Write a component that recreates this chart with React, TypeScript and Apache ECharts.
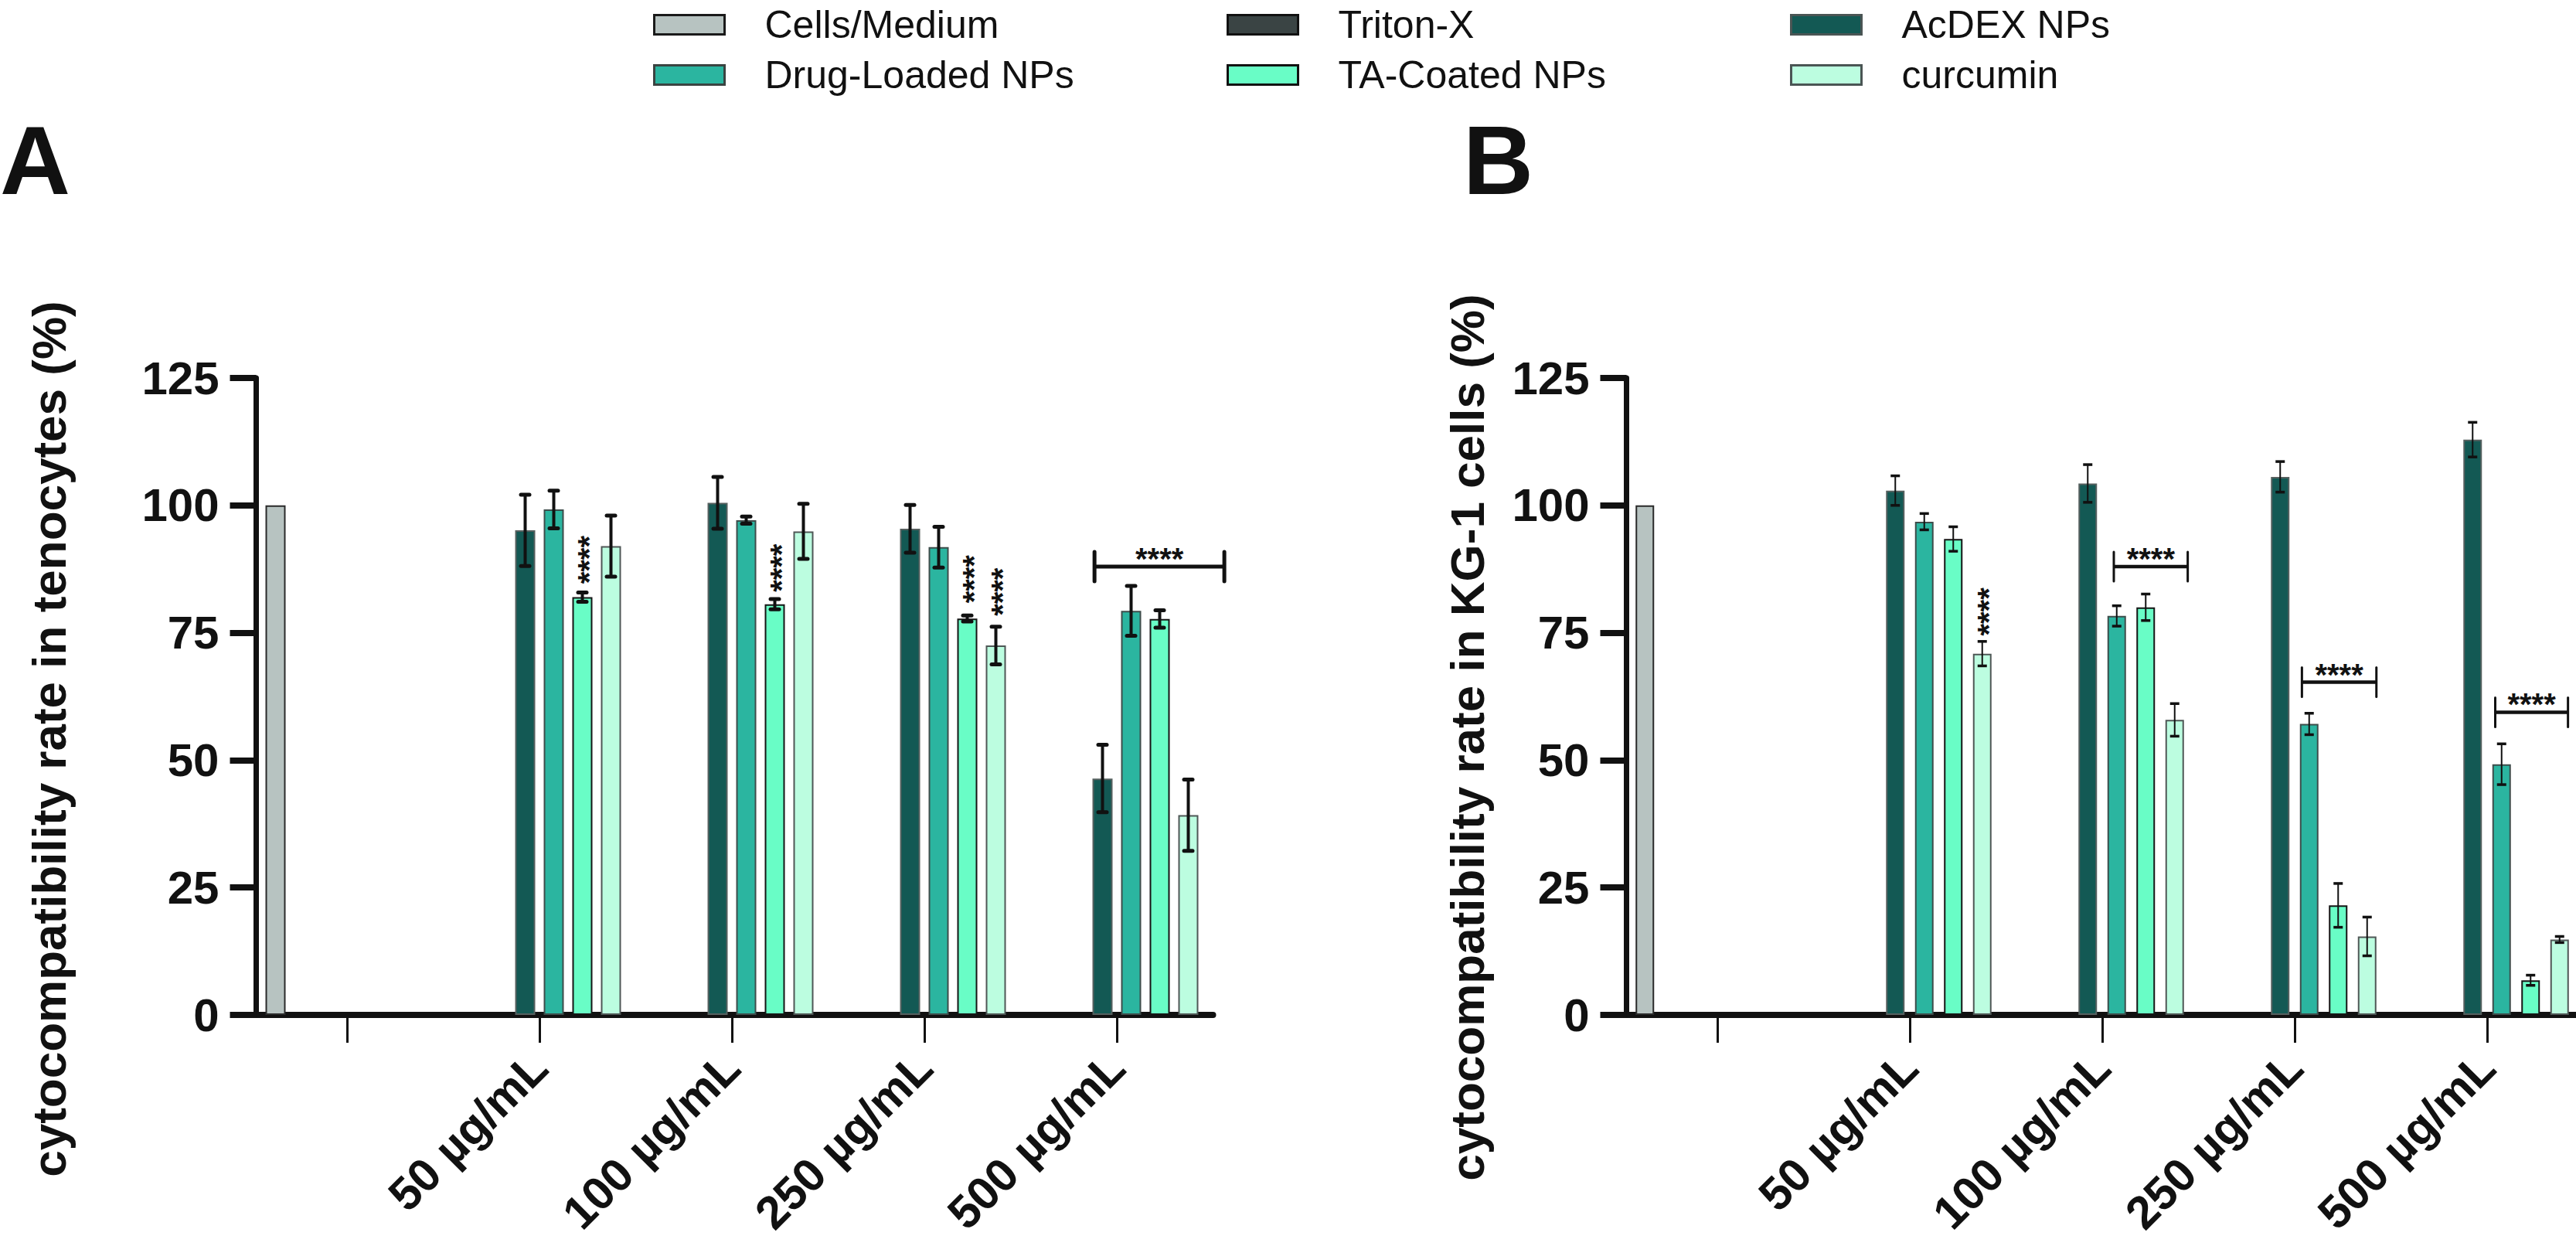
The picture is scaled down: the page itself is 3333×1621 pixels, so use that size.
import React, { useEffect, useRef } from "react";
import * as echarts from "echarts";

const FONT = "'Liberation Sans', Arial, Helvetica, sans-serif";

// ---------- categories & series ----------
const categories = ["", "50 µg/mL", "100 µg/mL", "250 µg/mL", "500 µg/mL"];
const seriesNames = ["Cells/Medium", "Triton-X", "AcDEX NPs", "Drug-Loaded NPs", "TA-Coated NPs", "curcumin"];
const fillColors = ["#b7c3c1", "#3a4444", "#135954", "#2bb5a0", "#69fdc6", "#bcfde0"];
const edgeColors = ["#2a2a2a", "#111111", "#56605f", "#3e4d4b", "#151515", "#4f5756"];
const legendEdgeColors = ["#1a1a1a", "#111111", "#4a5554", "#3a4341", "#111111", "#4a5554"];

// y axis ticks
const yMin = 0;
const yMax = 125;
const yStep = 25;

// ---------- Panel A: tenocytes ----------
const cellsA = [100, null, null, null, null];
const tritonA = [0, null, null, null, null];
const acdexA = [null, 95.1, 100.5, 95.4, 46.4];
const drugA = [null, 99.2, 97.1, 91.8, 79.3];
const taA = [null, 82.0, 80.6, 77.8, 77.7];
const curA = [null, 92.0, 94.9, 72.5, 39.2];
const acdexSdA = [null, 7.0, 5.1, 4.7, 6.6];
const drugSdA = [null, 3.7, 0.7, 4.0, 4.9];
const taSdA = [null, 0.9, 1.0, 0.6, 1.7];
const curSdA = [null, 6.0, 5.4, 3.7, 7.0];
// vertical "****" stacks: [category, slot, base value]
const starsA = [[1, 4, 84.6], [2, 4, 83.0], [3, 4, 80.8], [3, 5, 78.3]];
// brackets: [category, from slot pos, to slot pos, value]
const bracketsA = [[4, 1.72, 6.26, 88.0]];

// ---------- Panel B: KG-1 cells ----------
const cellsB = [100, null, null, null, null];
const tritonB = [0, null, null, null, null];
const acdexB = [null, 102.9, 104.3, 105.6, 112.9];
const drugB = [null, 96.8, 78.3, 57.1, 49.2];
const taB = [null, 93.4, 80.0, 21.5, 6.8];
const curB = [null, 70.9, 57.9, 15.4, 14.8];
const acdexSdB = [null, 2.9, 3.7, 3.0, 3.4];
const drugSdB = [null, 1.6, 2.0, 2.1, 4.0];
const taSdB = [null, 2.4, 2.6, 4.3, 1.0];
const curSdB = [null, 2.4, 3.2, 3.8, 0.6];
const starsB = [[1, 5, 74.4]];
const bracketsB = [[2, 2.9, 5.45, 88.0], [3, 2.75, 5.32, 65.3], [4, 2.78, 5.29, 59.4]];

const panels = [
  {
    letter: "A",
    title: "cytocompatibility rate in tenocytes (%)",
    means: [cellsA, tritonA, acdexA, drugA, taA, curA],
    sds: [null, null, acdexSdA, drugSdA, taSdA, curSdA],
    stars: starsA,
    brackets: bracketsA,
    gridLeft: 324.5,
    barWidth: 26,
    gapPx: 11,
    errLw: 4,
    capLw: 5,
    capHalf: 5.5,
    capRound: true,
    brLw: 5,
    brCapW: 5,
    letterX: 0,
    titleX: 63,
    titleY: 956,
  },
  {
    letter: "B",
    title: "cytocompatibility rate in KG-1 cells (%)",
    means: [cellsB, tritonB, acdexB, drugB, taB, curB],
    sds: [null, null, acdexSdB, drugSdB, taSdB, curSdB],
    stars: starsB,
    brackets: bracketsB,
    gridLeft: 2097.5,
    barWidth: 24,
    gapPx: 13.5,
    errLw: 2,
    capLw: 3.5,
    capHalf: 6,
    capRound: false,
    brLw: 4.5,
    brCapW: 3,
    letterX: 1893,
    titleX: 1898,
    titleY: 954,
  },
];

const legendPos = [
  [845, 7],
  [1587, 7],
  [2316, 7],
  [845, 72],
  [1587, 72],
  [2316, 72],
];

const GRID_TOP = 489;
const GRID_H = 824;
const GRID_W = 1245;

function makeErrorRenderer(pitch: number, lw: number, capHalf: number, capLw: number, round: boolean) {
  return (_params: any, api: any) => {
    const cat = api.value(0);
    const lo = api.coord([cat, api.value(1)]);
    const hi = api.coord([cat, api.value(2)]);
    const x = lo[0] + (api.value(3) - 2.5) * pitch;
    const cap = round ? "round" : "butt";
    return {
      type: "group",
      children: [
        { type: "line", shape: { x1: x, y1: lo[1], x2: x, y2: hi[1] }, style: { stroke: "#111", lineWidth: lw } },
        { type: "line", shape: { x1: x - capHalf, y1: hi[1], x2: x + capHalf, y2: hi[1] }, style: { stroke: "#111", lineWidth: capLw, lineCap: cap } },
        { type: "line", shape: { x1: x - capHalf, y1: lo[1], x2: x + capHalf, y2: lo[1] }, style: { stroke: "#111", lineWidth: capLw, lineCap: cap } },
      ],
    };
  };
}

function makeSigRenderer(pitch: number, lw: number, capW: number) {
  return (_params: any, api: any) => {
    const kind = api.value(4);
    const cat = api.value(0);
    const p = api.coord([cat, api.value(1)]);
    const starStyle = {
      text: "****",
      fontSize: 40,
      fontWeight: "bold",
      fontFamily: FONT,
      fill: "#111",
      verticalAlign: "middle",
    };
    if (kind === 1) {
      const x = p[0] + (api.value(2) - 2.5) * pitch + 8.5;
      return {
        type: "text",
        x,
        y: p[1],
        rotation: Math.PI / 2,
        style: { ...starStyle, align: "left" },
      };
    }
    const x1 = p[0] + (api.value(2) - 2.5) * pitch;
    const x2 = p[0] + (api.value(3) - 2.5) * pitch;
    const y = p[1];
    return {
      type: "group",
      children: [
        { type: "line", shape: { x1, y1: y, x2, y2: y }, style: { stroke: "#111", lineWidth: lw } },
        { type: "line", shape: { x1, y1: y - 19, x2: x1, y2: y + 19 }, style: { stroke: "#111", lineWidth: capW, lineCap: "round" } },
        { type: "line", shape: { x1: x2, y1: y - 19, x2, y2: y + 19 }, style: { stroke: "#111", lineWidth: capW, lineCap: "round" } },
        { type: "text", x: (x1 + x2) / 2, y: y - 10, style: { ...starStyle, align: "center" } },
      ],
    };
  };
}

function buildOption() {
  const grid: any[] = [];
  const xAxis: any[] = [];
  const yAxis: any[] = [];
  const series: any[] = [];
  const graphic: any[] = [];

  panels.forEach((p, i) => {
    const pitch = p.barWidth + p.gapPx;
    grid.push({ left: p.gridLeft, top: GRID_TOP, width: GRID_W, height: GRID_H, containLabel: false, outerBoundsMode: "none" });
    xAxis.push({
      type: "category",
      gridIndex: i,
      data: categories,
      axisLine: { show: true, lineStyle: { color: "#111", width: 8 } },
      axisTick: { show: true, alignWithLabel: true, length: 36, lineStyle: { color: "#111", width: 3 } },
      axisLabel: {
        interval: 0,
        rotate: 45,
        margin: 58,
        fontSize: 60,
        fontWeight: "bold",
        fontFamily: FONT,
        color: "#111",
      },
      splitLine: { show: false },
    });
    yAxis.push({
      type: "value",
      gridIndex: i,
      min: yMin,
      max: yMax,
      interval: yStep,
      offset: -7,
      axisLine: { show: true, lineStyle: { color: "#111", width: 7 } },
      axisTick: { show: true, length: 34, lineStyle: { color: "#111", width: 8 } },
      axisLabel: { fontSize: 60, fontWeight: "bold", fontFamily: FONT, color: "#111", margin: 48 },
      splitLine: { show: false },
    });

    p.means.forEach((vals, k) => {
      series.push({
        type: "bar",
        name: seriesNames[k],
        xAxisIndex: i,
        yAxisIndex: i,
        data: vals.map((v) => (v == null ? "-" : v)),
        barWidth: p.barWidth,
        barGap: `${(p.gapPx / p.barWidth) * 100}%`,
        itemStyle: { color: fillColors[k], borderColor: edgeColors[k], borderWidth: 2 },
        emphasis: { disabled: true },
        silent: true,
        z: 2,
      });
    });

    const errData: number[][] = [];
    p.means.forEach((vals, k) => {
      const sd = p.sds[k];
      if (!sd) return;
      vals.forEach((v, c) => {
        const s = sd[c];
        if (v == null || s == null) return;
        errData.push([c, v - s, v + s, k]);
      });
    });
    series.push({
      type: "custom",
      name: "err" + p.letter,
      xAxisIndex: i,
      yAxisIndex: i,
      data: errData,
      renderItem: makeErrorRenderer(pitch, p.errLw, p.capHalf, p.capLw, p.capRound),
      silent: true,
      z: 5,
    });

    const sigData: number[][] = [];
    p.brackets.forEach((b) => sigData.push([b[0], b[3], b[1], b[2], 0]));
    p.stars.forEach((s) => sigData.push([s[0], s[2], s[1], 0, 1]));
    series.push({
      type: "custom",
      name: "sig" + p.letter,
      xAxisIndex: i,
      yAxisIndex: i,
      data: sigData,
      renderItem: makeSigRenderer(pitch, p.brLw, p.brCapW),
      silent: true,
      clip: false,
      z: 6,
    });

    graphic.push({
      type: "text",
      x: p.letterX,
      y: 207,
      style: {
        text: p.letter,
        fontSize: 126,
        fontWeight: "bold",
        fontFamily: FONT,
        fill: "#111",
        align: "left",
        verticalAlign: "middle",
      },
    });
    graphic.push({
      type: "text",
      x: p.titleX,
      y: p.titleY,
      rotation: Math.PI / 2,
      style: {
        text: p.title,
        fontSize: 62,
        fontWeight: "bold",
        fontFamily: FONT,
        fill: "#111",
        align: "center",
        verticalAlign: "middle",
      },
    });
  });

  const legend = seriesNames.map((n, k) => ({
    data: [n],
    left: legendPos[k][0],
    top: legendPos[k][1],
    padding: 0,
    itemWidth: 91,
    itemHeight: 25,
    icon: "rect",
    selectedMode: false,
    itemStyle: { borderColor: legendEdgeColors[k], borderWidth: 3 },
    textStyle: { fontSize: 50, fontFamily: FONT, color: "#111", padding: [0, 0, 0, 47] },
  }));

  return {
    animation: false,
    backgroundColor: "#ffffff",
    tooltip: { show: false },
    legend,
    grid,
    xAxis,
    yAxis,
    series,
    graphic,
  };
}

export default function App() {
  const ref = useRef<HTMLDivElement>(null);
  useEffect(() => {
    const chart = echarts.init(ref.current as HTMLDivElement, null, { renderer: "svg" });
    chart.setOption(buildOption() as any);
    return () => chart.dispose();
  }, []);
  return (
    <div
      style={{
        position: "fixed",
        left: 0,
        top: 0,
        width: 3333,
        height: 1621,
        overflow: "hidden",
        background: "#ffffff",
      }}
    >
      <div ref={ref} style={{ width: 3360, height: 1621 }} />
    </div>
  );
}
